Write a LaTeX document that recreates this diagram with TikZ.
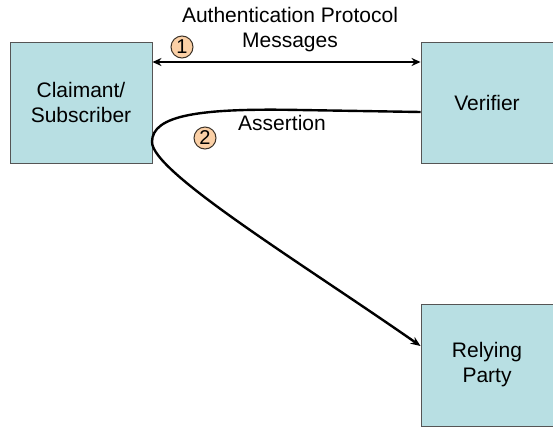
\documentclass[tikz,border=0pt]{standalone}
\usepackage{fontspec}
\setmainfont{Liberation Sans}
\usetikzlibrary{arrows.meta}
\definecolor{boxfill}{RGB}{184,223,227}
\definecolor{boxline}{RGB}{85,85,85}
\definecolor{badgefill}{RGB}{251,208,166}
\definecolor{badgeline}{RGB}{60,50,40}
\tikzset{
  party/.style={draw=boxline, line width=0.9pt, fill=boxfill, align=center,
    inner sep=0pt, font=\fontsize{21}{25}\selectfont},
  badge/.style={circle, draw=badgeline, line width=1pt, fill=badgefill,
    inner sep=0pt, minimum size=22pt, font=\fontsize{20}{20}\selectfont},
  lbl/.style={align=center, inner sep=0pt, font=\fontsize{21}{25}\selectfont},
  msg/.style={line width=1.9pt, {Stealth[length=9pt,width=8pt]}-{Stealth[length=9pt,width=8pt]}},
  flow/.style={line width=2.4pt, -{Stealth[length=10pt,width=8pt]}}
}
\begin{document}
\begin{tikzpicture}[x=1pt, y=-1pt]
\useasboundingbox (0,0) rectangle (553,426);

\node[party, minimum width=142pt, minimum height=121pt] (claimant) at (81,102.5) {Claimant/\\Subscriber};
\node[party, minimum width=132pt, minimum height=121pt] (verifier) at (487,102.5) {Verifier};
\node[party, minimum width=132pt, minimum height=122pt] (rp) at (487,365) {Relying\\Party};

% authentication protocol exchange
\coordinate (m1) at (claimant.east |- 0,62);
\coordinate (m2) at (verifier.west |- 0,62);
\draw[msg] (m1) -- (m2);
\node[lbl] (msglbl) at (290,30) {Authentication Protocol\\Messages};
\node[badge] (b1) at (182,47) {1};

% assertion path from verifier via subscriber to relying party
\coordinate (a0) at (verifier.west |- 0,112);
\coordinate (a1) at (rp.west |- 0,346);
\draw[flow] (a0) -- (300,110) .. controls (200,108) and (152,115) .. (152,142)
  .. controls (152,172) and (300,262) .. (a1);
\node[lbl] (asslbl) at (282,123) {Assertion};
\node[badge] (b2) at (205,138) {2};
\end{tikzpicture}
\end{document}
